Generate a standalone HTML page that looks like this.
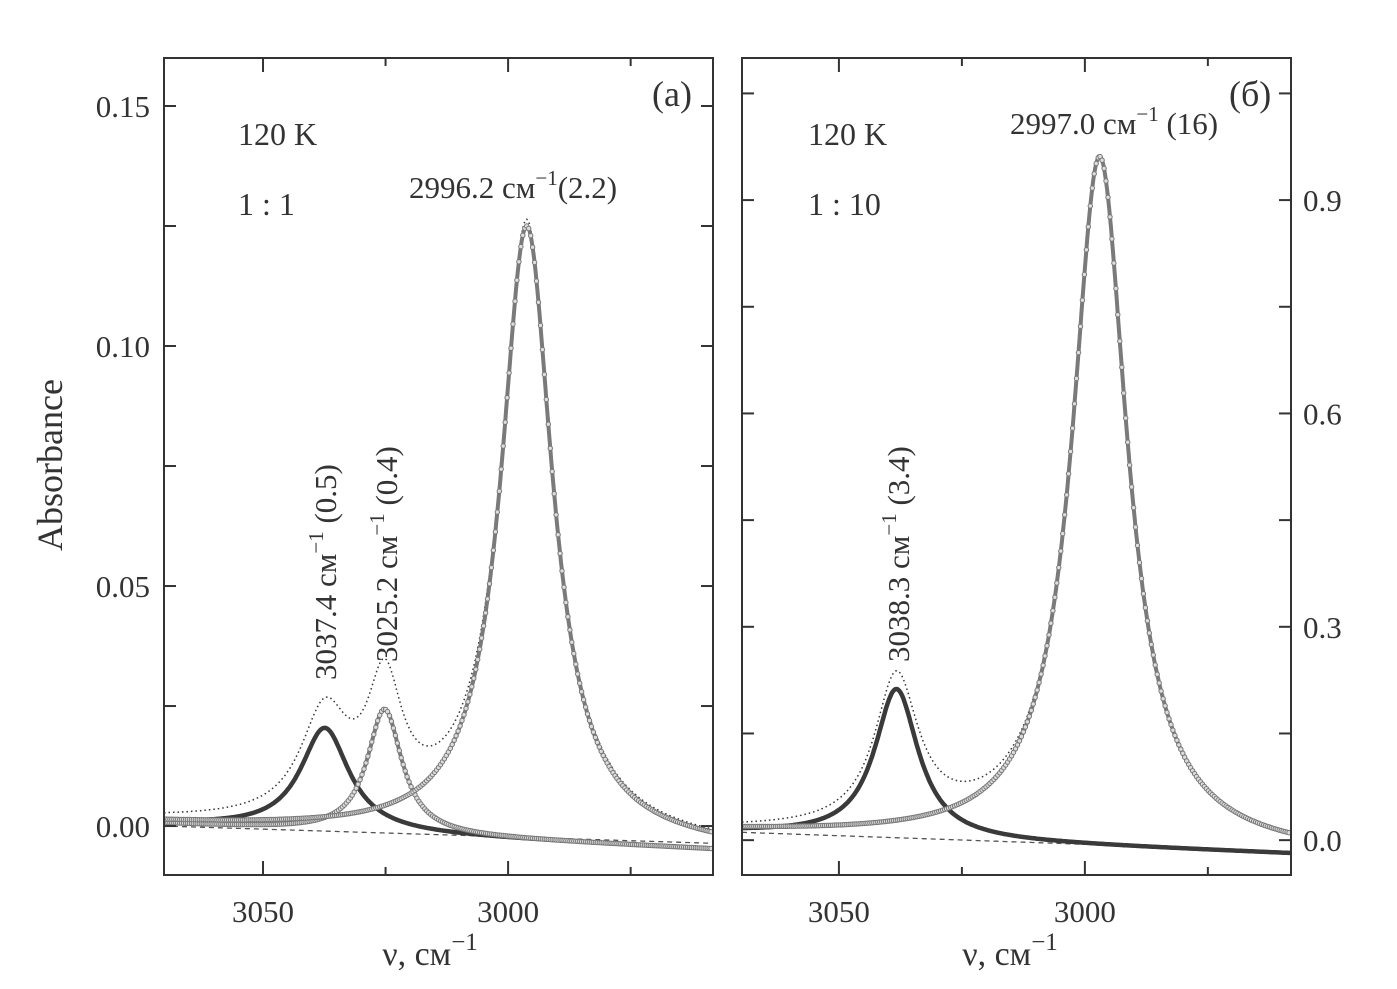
<!DOCTYPE html>
<html><head><meta charset="utf-8"><style>
html,body{margin:0;padding:0;background:#fff;}
svg{display:block;font-family:"Liberation Serif",serif;}
</style></head><body>
<svg id="chart" width="1397" height="989" viewBox="0 0 1397 989" xmlns="http://www.w3.org/2000/svg" style="position:absolute;left:0;top:0;">
<g id="pa"></g>
<g id="pb"></g>
<text x="0" y="0" font-size="36" fill="#333" text-anchor="middle" transform="translate(62,465) rotate(-90)">Absorbance</text>
<text x="430" y="965" font-size="34" fill="#333" text-anchor="middle">ν, см<tspan dy="-15" font-size="25">−1</tspan></text>
<text x="1010" y="965" font-size="34" fill="#333" text-anchor="middle">ν, см<tspan dy="-15" font-size="25">−1</tspan></text>
<g>
<text x="652" y="106" font-size="36" fill="#333">(a)</text>
<text x="238" y="145" font-size="32" fill="#333">120 K</text>
<text x="238" y="215" font-size="32" fill="#333">1 : 1</text>
<text x="409" y="198" font-size="31" fill="#333">2996.2 см<tspan dy="-13" font-size="21">−1</tspan><tspan dy="13">(2.2)</tspan></text>
<text font-size="31" fill="#333" transform="translate(336,680) rotate(-90)">3037.4 см<tspan dy="-13" font-size="21">−1</tspan><tspan dy="13"> (0.5)</tspan></text>
<text font-size="31" fill="#333" transform="translate(397,662) rotate(-90)">3025.2 см<tspan dy="-13" font-size="21">−1</tspan><tspan dy="13"> (0.4)</tspan></text>
<text x="1229" y="106" font-size="36" fill="#333">(б)</text>
<text x="808" y="145" font-size="32" fill="#333">120 K</text>
<text x="808" y="215" font-size="32" fill="#333">1 : 10</text>
<text x="1010" y="134" font-size="31" fill="#333">2997.0 см<tspan dy="-13" font-size="21">−1</tspan><tspan dy="13"> (16)</tspan></text>
<text font-size="31" fill="#333" transform="translate(909,662) rotate(-90)">3038.3 см<tspan dy="-13" font-size="21">−1</tspan><tspan dy="13"> (3.4)</tspan></text>
</g>
</svg>
<script>
const NS="http://www.w3.org/2000/svg";
// Panel (a) data
const aCenters=[3037.4,3025.2,2996.2];
const aHeights=[0.0215,0.026,0.128];
const aWidths=[6.0,4.3,6.4];
const aCompBase=[0.0005,-0.0048];
const aDashBase=[0.0,-0.0036];
const aSumOffset=[0.0004];
const aYTicks=[0.00,0.05,0.10,0.15];
const aYTickLabels=["0.00","0.05","0.10","0.15"];
// Panel (b) data
const bCenters=[3038.3,2997.0];
const bHeights=[0.21,0.97];
const bWidths=[5.4,6.8];
const bCompBase=[0.011,-0.019];
const bDashBase=[0.011,-0.016];
const bSumOffset=[0.0];
const bYTicks=[0.0,0.3,0.6,0.9];
const bYTickLabels=["0.0","0.3","0.6","0.9"];
const xTicks=[3050,3000];
const xTickLabels=["3050","3000"];

function mk(parent,tag,attrs){const e=document.createElementNS(NS,tag);for(const k in attrs)e.setAttribute(k,attrs[k]);parent.appendChild(e);return e;}

function panel(g,P){
  const sx=v=>P.x0+(P.v0-v)*(P.x1-P.x0)/(P.v0-P.v1);
  const sy=a=>P.y1-(a-P.a0)*(P.y1-P.y0)/(P.a1-P.a0);
  const lor=(v,c,h,w)=>h*w*w/((v-c)*(v-c)+w*w);
  const lin=(v,b)=>b[0]+(b[1]-b[0])*(P.v0-v)/(P.v0-P.v1);
  const clip="clip"+P.id;
  const cp=mk(g,"clipPath",{id:clip});mk(cp,"rect",{x:P.x0,y:P.y0,width:P.x1-P.x0,height:P.y1-P.y0});
  const cg=mk(g,"g",{"clip-path":"url(#"+clip+")"});
  const vs=[];for(let v=P.v0;v>=P.v1;v-=0.2)vs.push(v);
  const path=f=>vs.map((v,i)=>(i?"L":"M")+sx(v).toFixed(1)+","+sy(f(v)).toFixed(1)).join("");
  const db=mk(cg,"path",{d:path(v=>lin(v,P.dash)),fill:"none",stroke:"#555","stroke-width":1.3,"stroke-dasharray":"5,4"});
  
  
  const sum=v=>{let s=lin(v,P.base)+P.off[0];for(let i=0;i<P.c.length;i++)s+=lor(v,P.c[i],P.h[i],P.w[i]);return s;};
  const sp=mk(cg,"path",{d:path(sum),fill:"none",stroke:"#333","stroke-width":1.5,"stroke-dasharray":"1.5,3"});
  
  
  for(let i=0;i<P.c.length;i++){
    const f=v=>lin(v,P.base)+lor(v,P.c[i],P.h[i],P.w[i]);
    const dark=(i===0);
    const p=mk(cg,"path",{d:path(f),fill:"none",stroke:dark?"#3a3a3a":"#7a7a7a","stroke-width":dark?4.5:4});
    
    
    if(!dark){
      for(let v=P.v0;v>=P.v1;v-=0.4){
        mk(cg,"circle",{cx:sx(v).toFixed(1),cy:sy(f(v)).toFixed(1),r:2.2,fill:"#ddd",stroke:"#777","stroke-width":1});
      }
    }
  }
  const fr=mk(g,"rect",{x:P.x0,y:P.y0,width:P.x1-P.x0,height:P.y1-P.y0,fill:"none",stroke:"#333","stroke-width":2});
  
  
  for(let v=3075;v>=2950;v-=25){const x=sx(v);if(x<P.x0+2||x>P.x1-2)continue;const major=(v%50===0);const L=major?14:8;
    mk(g,"line",{x1:x,x2:x,y1:P.y1,y2:P.y1-L,stroke:"#333","stroke-width":2});
    mk(g,"line",{x1:x,x2:x,y1:P.y0,y2:P.y0+L,stroke:"#333","stroke-width":2});}
  xTicks.forEach((v,i)=>{const t=mk(g,"text",{x:sx(v),y:P.y1+47,"font-size":31,fill:"#333","text-anchor":"middle"});t.textContent=xTickLabels[i];
    });
  const st=P.minor;
  for(let a=Math.ceil(P.a0/st)*st;a<=P.a1;a+=st){const y=sy(a);if(y<P.y0+2||y>P.y1-2)continue;
    mk(g,"line",{x1:P.x0,x2:P.x0+12,y1:y,y2:y,stroke:"#333","stroke-width":2});
    mk(g,"line",{x1:P.x1,x2:P.x1-12,y1:y,y2:y,stroke:"#333","stroke-width":2});}
  P.yt.forEach((a,i)=>{const t=mk(g,"text",{x:P.right?P.x1+12:P.x0-14,y:sy(a)+11,"font-size":31,fill:"#333","text-anchor":P.right?"start":"end"});t.textContent=P.ytl[i];
    });
}
panel(document.getElementById("pa"),{id:"a",x0:164,x1:713,y0:58,y1:875,v0:3070.2,v1:2958.2,a0:-0.0102,a1:0.16,c:aCenters,h:aHeights,w:aWidths,base:aCompBase,dash:aDashBase,off:aSumOffset,yt:aYTicks,ytl:aYTickLabels,minor:0.025,right:false});
panel(document.getElementById("pb"),{id:"b",x0:742,x1:1291,y0:58,y1:875,v0:3069.7,v1:2958.1,a0:-0.049,a1:1.0998,c:bCenters,h:bHeights,w:bWidths,base:bCompBase,dash:bDashBase,off:bSumOffset,yt:bYTicks,ytl:bYTickLabels,minor:0.15,right:true});
</script>
</body></html>
